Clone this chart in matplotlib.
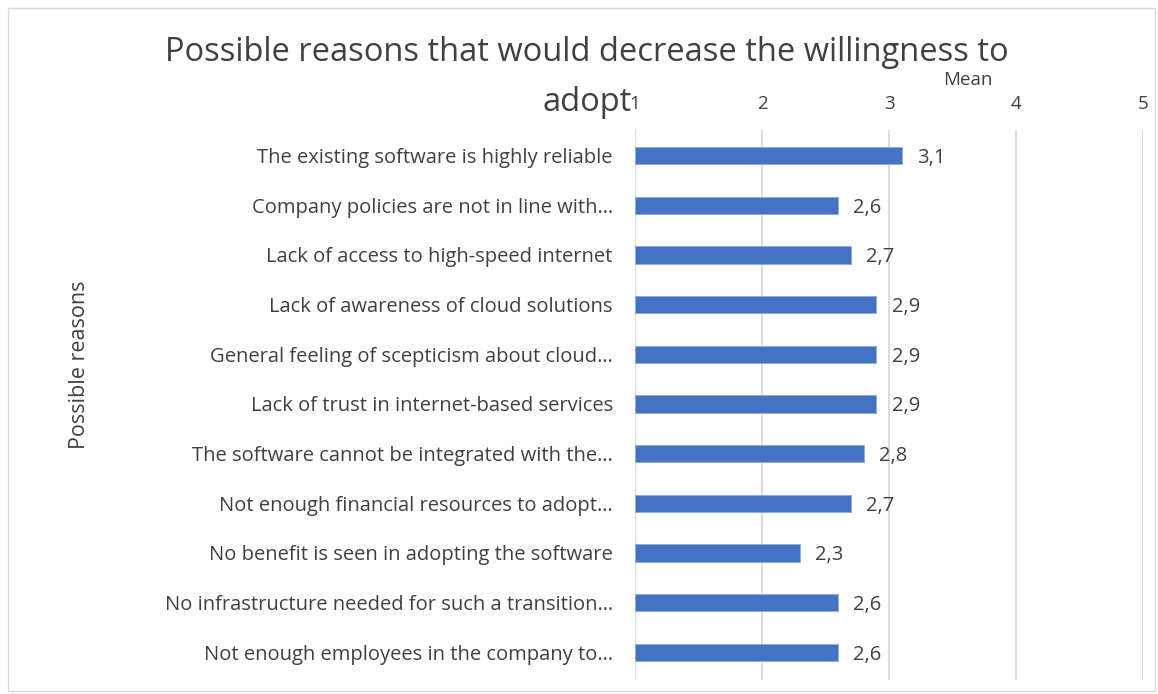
import matplotlib
matplotlib.use("Agg")
import matplotlib.pyplot as plt
from matplotlib.patches import Rectangle

reasons = [
    "The existing software is highly reliable",
    "Company policies are not in line with\u2026",
    "Lack of access to high-speed internet",
    "Lack of awareness of cloud solutions",
    "General feeling of scepticism about cloud\u2026",
    "Lack of trust in internet-based services",
    "The software cannot be integrated with the\u2026",
    "Not enough financial resources to adopt\u2026",
    "No benefit is seen in adopting the software",
    "No infrastructure needed for such a transition\u2026",
    "Not enough employees in the company to\u2026",
]
means = [3.1, 2.6, 2.7, 2.9, 2.9, 2.9, 2.8, 2.7, 2.3, 2.6, 2.6]
x_ticks = [1, 2, 3, 4, 5]

text_color = "#404040"
plt.rcParams["font.family"] = ["Open Sans", "DejaVu Sans"]

fig = plt.figure(figsize=(11.58, 6.94), dpi=100)
ax = fig.add_axes([0.5484, 0.02, 0.4387, 0.793])

pos = list(range(len(reasons)))
ax.barh(pos, [m - 1 for m in means], left=1, height=0.35, color="#4472C4",
        edgecolor="#8FAADC", linewidth=0.6, zorder=3)
for p, m in zip(pos, means):
    ax.text(m + 0.12, p + 0.05, f"{m:.1f}".replace(".", ","), va="center",
            ha="left", fontsize=14.5, color=text_color)

ax.set_xlim(1, 5)
ax.set_ylim(10.56, -0.52)
ax.set_xticks(x_ticks)
ax.xaxis.tick_top()
ax.tick_params(axis="x", length=0, labelsize=13.5, labelcolor=text_color, pad=12)
ax.tick_params(axis="y", length=0, labelsize=14.5, labelcolor=text_color, pad=16)
ax.set_yticks(pos)
ax.set_yticklabels(reasons)
ax.grid(axis="x", color="#D9D9D9", linewidth=1.3, zorder=0)
for s in ax.spines.values():
    s.set_visible(False)

fig.text(0.836, 0.885, "Mean", ha="center", va="center", fontsize=13.5,
         color=text_color)
fig.text(0.069, 0.474, "Possible reasons", rotation=90, ha="center",
         va="center", fontsize=15.5, color=text_color)
fig.text(0.507, 0.925, "Possible reasons that would decrease the willingness to",
         ha="center", va="center", fontsize=23.5, color=text_color)
fig.text(0.507, 0.853, "adopt", ha="center", va="center", fontsize=23.5,
         color=text_color)

fig.patches.append(Rectangle((0.007, 0.005), 0.99, 0.983, transform=fig.transFigure,
                             fill=False, edgecolor="#D9D9D9", linewidth=1))

fig.savefig("out.png", dpi=100, facecolor="white")
